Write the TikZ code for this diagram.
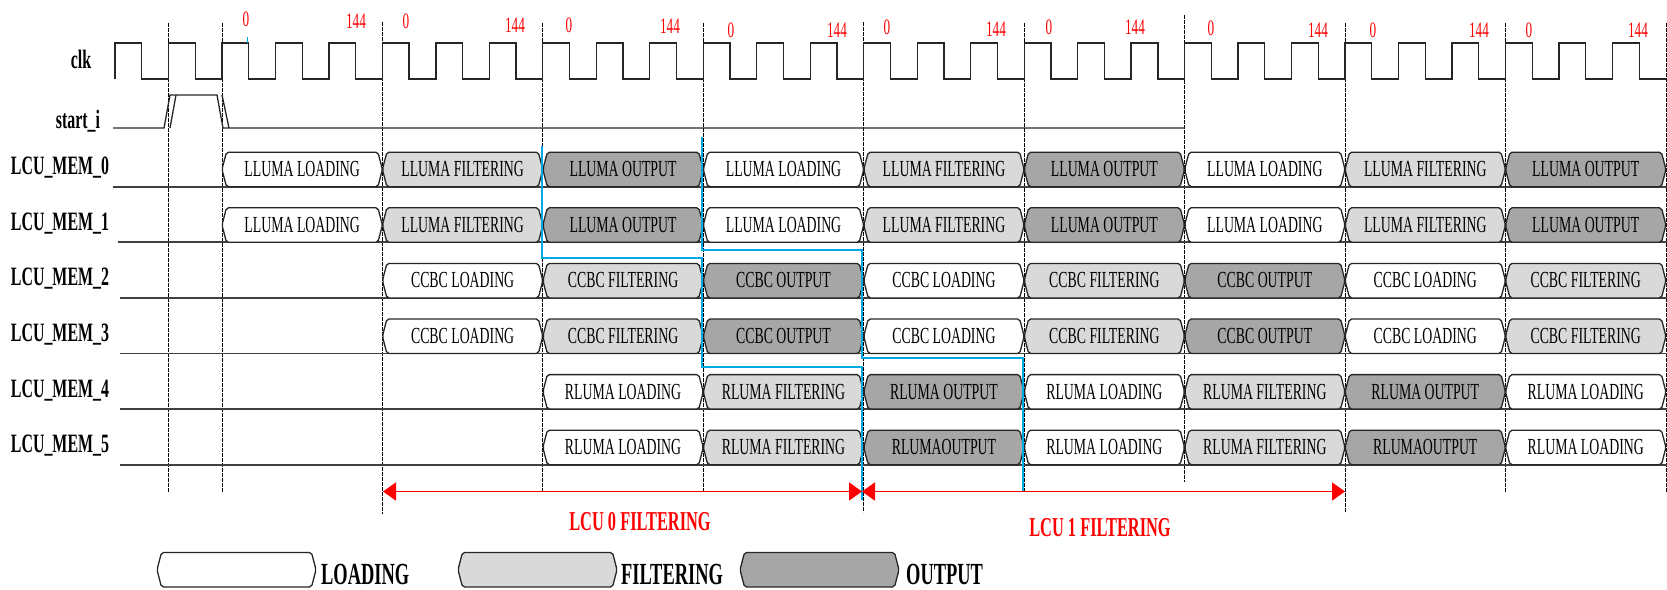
\documentclass[tikz,border=0pt]{standalone}
\usepackage{fontspec}
\setmainfont{Liberation Serif}
\usetikzlibrary{arrows.meta}

\definecolor{filtgray}{RGB}{217,217,217}
\definecolor{outgray}{RGB}{166,166,166}
\definecolor{lcublue}{RGB}{0,170,230}

\newcommand{\sq}[1]{\scalebox{0.6}[1]{#1}}
% bus slot: left x, right x, bottom y, fill
\newcommand{\busbox}[4]{%
  \draw[boxline,fill=#4] (#1+4.5,#3-34.5) -- (#2-4.5,#3-34.5) -- (#2,#3-17.25)
    -- (#2-4.5,#3) -- (#1+4.5,#3) -- (#1,#3-17.25) -- cycle;}
\def\clkT{53.48}

\begin{document}
\begin{tikzpicture}[x=1pt,y=-1pt,
    sig/.style={line width=1.3pt,black!85},
    rowbase/.style={line width=1.8pt,black!75},
    boxline/.style={line width=1.3pt,black!85,rounded corners=2pt},
    vline/.style={line width=0.8pt,dash pattern=on 4pt off 1pt},
    blueline/.style={line width=2pt,lcublue},
    redarrow/.style={line width=1.8pt,red,{Triangle[length=13pt,width=18pt]}-{Triangle[length=13pt,width=18pt]}},
    lbl/.style={font=\fontsize{26.5}{28}\selectfont\bfseries,anchor=base},
    boxtext/.style={font=\fontsize{23}{24}\selectfont},
    num/.style={font=\fontsize{22}{22}\selectfont,red},
    redlbl/.style={font=\fontsize{27.3}{28}\selectfont\bfseries,red},
    legtext/.style={font=\fontsize{30.7}{31}\selectfont\bfseries,anchor=base west,inner sep=0pt}]

\useasboundingbox (0,0) rectangle (1667,589);

% frame markers
\foreach \k/\ya/\yb in {1/23/492,2/23/492,5/22/514,8/23/491,11/23/491,14/22/512,
    17/23/491,20/15/482,23/23/513,26/23/493,29/23/493}
  \draw[vline] (115+\k*\clkT,\ya) -- (115+\k*\clkT,\yb);

% pixel counters
\foreach \x/\y/\v [count=\i] in {246/19/0,356/21/144,406/21/0,515/25/144,569/25/0,
    670/26/144,731/30/0,837/30/144,887/27/0,996/29/144,1049/27/0,1135/27/144,
    1211/28/0,1318/30/144,1373/30/0,1479/30/144,1529/30/0,1638/30/144}
  \node[num] (n\i) at (\x,\y) {\sq{\v}};

% clk
\node[lbl] (clk) at (81,68) {\sq{clk}};
\draw[sig] (115,79) \foreach \k in {1,...,29} {
  -- ++(0,-36) -- ++(\clkT/2,0) -- ++(0,36) -- ++(\clkT/2,0)};

% start_i
\node[lbl] (start) at (78,128) {\sq{start\_i}};
\draw[sig] (113,128) -- (164,128) -- (170,95) -- (217,95) -- (223,128) -- (1185,128);
\draw[sig] (170,128) -- (176,95) (222,95) -- (229,128);

% line buffers
\foreach \rw/\xs/\st/\nm/\otxt in {0/113/1/LLUMA/LLUMA OUTPUT,1/118/1/LLUMA/LLUMA OUTPUT,
    2/120/2/CCBC/CCBC OUTPUT,3/120/2/CCBC/CCBC OUTPUT,
    4/120/3/RLUMA/RLUMA OUTPUT,5/120/3/RLUMA/RLUMAOUTPUT} {
  \pgfmathsetmacro\yb{186.7+55.6*\rw}
  \node[lbl] (mem\rw) at (60,\yb-12) {\sq{LCU\_MEM\_\rw}};
  \draw[rowbase] (\xs,\yb) -- (1667,\yb);
  \foreach \j in {\st,...,9} {
    \pgfmathtruncatemacro\ph{mod(\j-\st,3)}
    \pgfmathsetmacro\xa{115+(3*\j-1)*\clkT}
    \pgfmathsetmacro\xb{115+(3*\j+2)*\clkT}
    \ifcase\ph \def\fc{white}\def\txt{\nm\ LOADING}%
    \or \def\fc{filtgray}\def\txt{\nm\ FILTERING}%
    \or \def\fc{outgray}\def\txt{\otxt}\fi
    \busbox{\xa}{\xb}{\yb}{\fc}
    \node[boxtext] (m\rw-\j) at ({(\xa+\xb)/2},\yb-17.5) {\sq{\txt}};
  }
}

% LCU boundaries
\draw[blueline] (542,146) -- (542,258) -- (702,258) -- (702,367) -- (862,367) -- (862,500);
\draw[blueline] (702,137) -- (702,250) -- (862,250) -- (862,358) -- (1023,358) -- (1023,491);
\draw[blueline,line width=1pt] (247.5,36.5) -- (247.5,43);

% filtering spans
\coordinate (f0) at (383,491.5);
\coordinate (f1) at (862,491.5);
\coordinate (f2) at (1345,491.5);
\draw[redarrow] (f0) -- (f1);
\draw[redarrow] (f1) -- (f2);
\node[redlbl] (lcu0) at (640,522) {\sq{LCU 0 FILTERING}};
\node[redlbl] (lcu1) at (1100,528) {\sq{LCU 1 FILTERING}};

% legend
\busbox{157}{316}{587}{white}
\busbox{458}{617}{587}{filtgray}
\busbox{740}{899}{587}{outgray}
\node[legtext] (lload) at (321,584.5) {\sq{LOADING}};
\node[legtext] (lfilt) at (621,584.5) {\sq{FILTERING}};
\node[legtext] (lout) at (906,584.5) {\sq{OUTPUT}};
\end{tikzpicture}
\end{document}
